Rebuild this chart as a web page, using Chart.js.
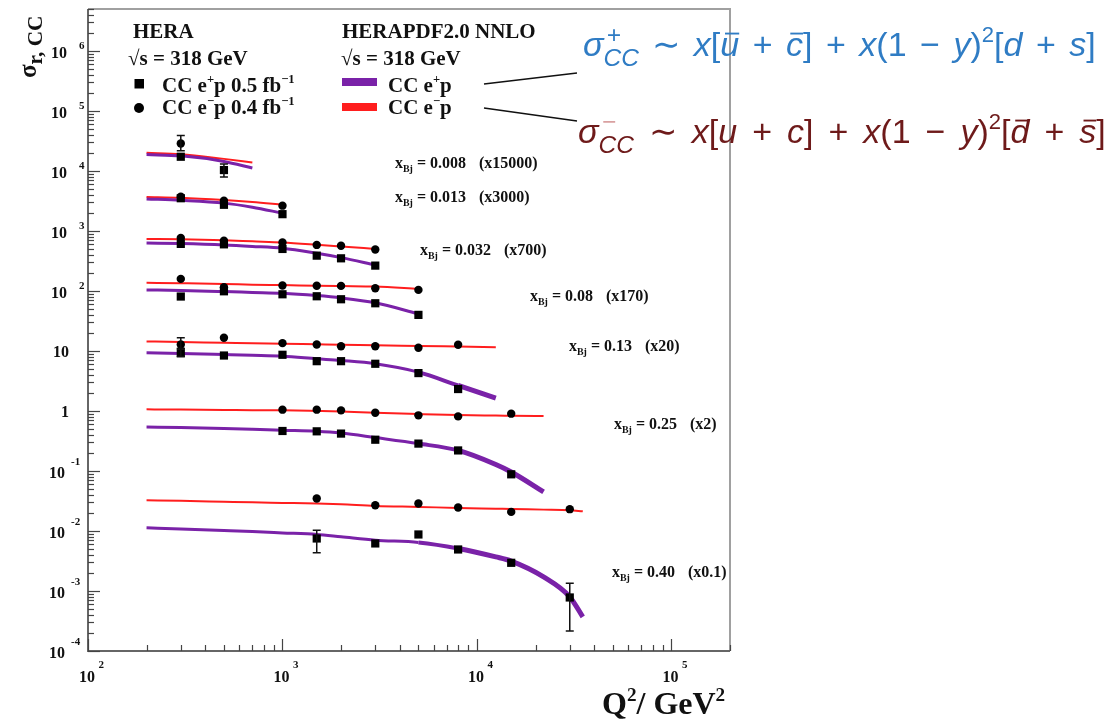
<!DOCTYPE html>
<html>
<head>
<meta charset="utf-8">
<script src="https://cdn.jsdelivr.net/npm/chart.js@4.4.0/dist/chart.umd.min.js"></script>
<style>
  html, body { margin: 0; padding: 0; background: #fff; }
</style>
</head>
<body>
<canvas id="cc" width="1115" height="721"></canvas>
<script>
// Q^2 bins of the charged-current measurements (GeV^2)
const q2Bins = [300, 500, 1000, 1500, 2000, 3000, 5000, 8000, 15000, 30000];
// Q^2 points the HERAPDF2.0 NNLO predictions are evaluated at
const q2Grid = [200, 300, 500, 700, 1000, 1500, 2000, 3000, 5000, 8000, 12500, 15000, 22000, 30000, 35000];

const xBjValues = ['0.008', '0.013', '0.032', '0.08', '0.13', '0.25', '0.40'];
const scaleFactors = [15000, 3000, 700, 170, 20, 2, 0.1];

// reduced cross sections, e+p (one row per x_Bj, columns follow q2Bins)
const sigmaPos = [
  [1.15, 0.69, null, null, null, null, null, null, null, null],
  [1.17, 0.91, 0.635, null, null, null, null, null, null, null],
  [0.87, 0.855, 0.716, 0.554, 0.50, 0.378, null, null, null, null],
  [0.475, 0.581, 0.518, 0.48, 0.428, 0.367, 0.235, null, null, null],
  [0.459, 0.42, 0.432, 0.338, 0.338, 0.306, 0.214, 0.116, null, null],
  [null, null, 0.232, 0.229, 0.21, 0.166, 0.143, 0.110, 0.044, null],
  [null, null, null, 0.075, null, 0.062, 0.0875, 0.0492, 0.0295, 0.0078]
];
// reduced cross sections, e-p
const sigmaNeg = [
  [1.91, null, null, null, null, null, null, null, null, null],
  [1.24, 1.06, 0.88, null, null, null, null, null, null, null],
  [1.09, 0.986, 0.92, 0.836, 0.81, 0.70, null, null, null, null],
  [0.935, 0.678, 0.724, 0.72, 0.715, 0.652, 0.613, null, null, null],
  [0.64, 0.83, 0.675, 0.64, 0.60, 0.60, 0.565, 0.634, null, null],
  [null, null, 0.526, 0.526, 0.512, 0.468, 0.423, 0.406, 0.451, null],
  [null, null, null, 0.347, null, 0.269, 0.287, 0.246, 0.208, 0.231]
];
// visible uncertainties [low, high]
const errPos = [
  [null, [0.53, 0.87]],
  [],
  [],
  [],
  [[0.405, 0.55]],
  [],
  [null, null, null, [0.0432, 0.103], null, null, null, null, null, [0.00215, 0.0134]]
];
const errNeg = [
  [[1.45, 2.6]],
  [],
  [],
  [],
  [[0.55, 0.83]],
  [],
  []
];

// HERAPDF2.0 NNLO predictions (columns follow q2Grid)
const fitPos = [
  [1.25, 1.19, 0.96, 0.745],
  [1.14, 1.08, 0.97, 0.83, 0.66],
  [0.90, 0.88, 0.836, 0.79, 0.734, 0.606, 0.514, 0.388],
  [0.613, 0.60, 0.575, 0.557, 0.539, 0.493, 0.451, 0.373, 0.245],
  [0.467, 0.455, 0.437, 0.425, 0.41, 0.371, 0.347, 0.306, 0.222, 0.133, 0.082],
  [0.27, 0.265, 0.255, 0.247, 0.238, 0.229, 0.214, 0.18, 0.143, 0.110, 0.064, 0.048, 0.0224],
  [0.1127, 0.108, 0.102, 0.098, 0.093, 0.0875, 0.080, 0.0703, 0.0644, 0.0512, 0.037, 0.0315, 0.0172, 0.008, 0.0037]
];
const fitNeg = [
  [1.34, 1.27, 1.06, 0.925],
  [1.23, 1.19, 1.09, 1.01, 0.91],
  [1.05, 1.04, 1.0, 0.96, 0.92, 0.845, 0.79, 0.716],
  [0.803, 0.79, 0.77, 0.75, 0.737, 0.72, 0.71, 0.697, 0.638],
  [0.72, 0.705, 0.686, 0.674, 0.661, 0.647, 0.637, 0.624, 0.607, 0.592, 0.578],
  [0.532, 0.527, 0.52, 0.515, 0.512, 0.50, 0.49, 0.468, 0.445, 0.428, 0.42, 0.417, 0.411],
  [0.325, 0.318, 0.307, 0.30, 0.294, 0.287, 0.278, 0.262, 0.252, 0.242, 0.235, 0.232, 0.227, 0.222, 0.213]
];

const PURPLE = '#7a22a8';
const RED = '#ff1e1e';
const SERIF = '"Liberation Serif", "Times New Roman", serif';
const SANS = '"Liberation Sans", Arial, sans-serif';

function toPoints(qs, vals, f, errs) {
  const out = [];
  qs.forEach((q, i) => {
    const v = vals[i];
    if (v == null) return;
    const p = { x: q, y: v * f };
    const e = errs && errs[i];
    if (e) { p.lo = e[0] * f; p.hi = e[1] * f; }
    out.push(p);
  });
  return out;
}

// the e+p band opens up at high Q^2
function bandWidth(c) {
  const q = c.p1.parsed.x;
  return q >= 12500 ? 5 : q >= 8000 ? 4 : 3;
}

const datasets = [];
xBjValues.forEach((xb, i) => {
  const f = scaleFactors[i];
  datasets.push({
    label: 'HERAPDF e+p x=' + xb, data: toPoints(q2Grid, fitPos[i], f),
    borderColor: PURPLE, borderWidth: 3, pointRadius: 0,
    segment: { borderWidth: bandWidth },
    cubicInterpolationMode: 'monotone', order: 1
  });
  datasets.push({
    label: 'HERAPDF e-p x=' + xb, data: toPoints(q2Grid, fitNeg[i], f),
    borderColor: RED, borderWidth: 2, pointRadius: 0,
    cubicInterpolationMode: 'monotone', order: 1
  });
  datasets.push({
    label: 'CC e+p x=' + xb, data: toPoints(q2Bins, sigmaPos[i], f, errPos[i]),
    showLine: false, pointStyle: 'rect', pointRadius: 5.8,
    backgroundColor: '#000', borderWidth: 0, order: 0
  });
  datasets.push({
    label: 'CC e-p x=' + xb, data: toPoints(q2Bins, sigmaNeg[i], f, errNeg[i]),
    showLine: false, pointStyle: 'circle', pointRadius: 4.2,
    backgroundColor: '#000', borderWidth: 0, order: 0
  });
});

// text with superscripts, subscripts, stacked indices, overbars and spaced operators
function rich(ctx, x, y, parts, o) {
  let cx = x;
  ctx.fillStyle = o.color;
  ctx.strokeStyle = o.color;
  ctx.textAlign = 'left';
  ctx.textBaseline = 'alphabetic';
  const font = (it, fs) => (it ? 'italic ' : '') + (o.bold ? 'bold ' : '') + fs + 'px ' + o.family;
  for (let p of parts) {
    if (typeof p === 'string') p = { t: p };
    if (p.hi !== undefined) {
      const fs = o.size * 0.72;
      ctx.font = font(p.it, fs);
      if (p.hiColor) ctx.fillStyle = p.hiColor;
      ctx.fillText(p.hi, cx + 3, y - o.size * 0.38);
      ctx.fillStyle = o.color;
      const w1 = ctx.measureText(p.hi).width;
      ctx.fillText(p.lo, cx, y + o.size * 0.3);
      const w2 = ctx.measureText(p.lo).width;
      cx += Math.max(w1 + 3, w2);
      continue;
    }
    if (p.op) cx += o.opPad || 0;
    const small = p.sup || p.sub;
    const fs = small ? o.size * (o.scriptScale || 0.62) : o.size;
    ctx.font = font(p.it, fs);
    const dy = p.sup ? -o.size * (o.supRise || 0.4) : p.sub ? o.size * 0.22 : 0;
    ctx.fillText(p.t, cx, y + dy);
    const w = ctx.measureText(p.t).width;
    if (p.bar) {
      const by = y - o.size * 0.66;
      ctx.lineWidth = Math.max(1, o.size * 0.055);
      ctx.beginPath();
      ctx.moveTo(cx + w * 0.25, by);
      ctx.lineTo(cx + w * 1.0, by);
      ctx.stroke();
    }
    cx += w;
    if (p.op) cx += o.opPad || 0;
  }
  return cx;
}

const axisPlugin = {
  id: 'hepAxes',
  afterDraw(chart) {
    const ctx = chart.ctx;
    const a = chart.chartArea;
    const xs = chart.scales.x, ys = chart.scales.y;
    ctx.save();

    // frame
    ctx.lineCap = 'butt';
    ctx.strokeStyle = '#a0a0a0';
    ctx.lineWidth = 2;
    ctx.beginPath();
    ctx.moveTo(a.left, a.top); ctx.lineTo(a.right, a.top); ctx.lineTo(a.right, a.bottom);
    ctx.stroke();
    ctx.strokeStyle = '#666';
    ctx.beginPath();
    ctx.moveTo(a.left, a.top); ctx.lineTo(a.left, a.bottom); ctx.lineTo(a.right, a.bottom);
    ctx.stroke();

    // inward log ticks
    ctx.lineWidth = 1.2;
    ctx.strokeStyle = '#444';
    for (let e = -4; e <= 6; e++) {
      for (let m = 1; m <= 9; m++) {
        const v = Number(m + 'e' + e);
        if (v < ys.min || v > ys.max) continue;
        const py = Math.round(ys.getPixelForValue(v)) + 0.5;
        ctx.beginPath();
        ctx.moveTo(a.left, py); ctx.lineTo(a.left + (m === 1 ? 12 : 6), py);
        ctx.stroke();
      }
    }
    for (let e = 2; e <= 5; e++) {
      for (let m = 1; m <= 9; m++) {
        const v = Number(m + 'e' + e);
        if (v < xs.min || v > xs.max) continue;
        const px = Math.round(xs.getPixelForValue(v)) + 0.5;
        ctx.beginPath();
        ctx.moveTo(px, a.bottom); ctx.lineTo(px, a.bottom - (m === 1 ? 12 : 6));
        ctx.stroke();
      }
    }

    // tick labels
    ctx.fillStyle = '#111';
    for (let e = -4; e <= 6; e++) {
      const py = ys.getPixelForValue(Number('1e' + e));
      ctx.font = 'bold 16px ' + SERIF;
      ctx.textAlign = 'right';
      if (e === 0 || e === 1) {
        ctx.fillText(e === 0 ? '1' : '10', 69, py + 6);
        continue;
      }
      ctx.fillText('10', e > 0 ? 67 : 65, py + 7);
      ctx.font = 'bold 11px ' + SERIF;
      ctx.textAlign = 'left';
      ctx.fillText(e > 0 ? String(e) : '-' + (-e), e > 0 ? 79 : 71, py + (e > 0 ? -2 : -6));
    }
    for (let e = 2; e <= 5; e++) {
      const px = xs.getPixelForValue(Number('1e' + e));
      ctx.font = 'bold 16px ' + SERIF;
      ctx.textAlign = 'left';
      ctx.fillText('10', px - 9, 682);
      ctx.font = 'bold 11px ' + SERIF;
      ctx.fillText(String(e), px + 10.5, 668);
    }

    // axis titles
    rich(ctx, 602, 714, ['Q', { t: '2', sup: true }, '/ GeV', { t: '2', sup: true }],
      { size: 32, family: SERIF, bold: true, color: '#111', scriptScale: 0.6, supRise: 0.42 });
    ctx.save();
    ctx.translate(36, 78);
    ctx.rotate(-Math.PI / 2);
    rich(ctx, 0, 0, ['σ', { t: 'r, CC', sub: true }],
      { size: 25, family: SERIF, bold: true, color: '#111', scriptScale: 0.85 });
    ctx.restore();

    // x_Bj labels with their scale factors
    const labelAt = [[395, 168], [395, 202], [420, 255], [530, 301], [569, 351], [614, 429], [612, 577]];
    xBjValues.forEach((xb, i) => {
      const [lx, ly] = labelAt[i];
      const end = rich(ctx, lx, ly, ['x', { t: 'Bj', sub: true }, ' = ' + xb],
        { size: 16, family: SERIF, bold: true, color: '#111', scriptScale: 0.62 });
      rich(ctx, end + 13, ly, ['(x' + scaleFactors[i] + ')'],
        { size: 16, family: SERIF, bold: true, color: '#111' });
    });

    // legend: data
    const L = { size: 21, family: SERIF, bold: true, color: '#111', scriptScale: 0.6, supRise: 0.45 };
    rich(ctx, 133, 38, ['HERA'], L);
    rich(ctx, 128, 65, ['√s = 318 GeV'], L);
    ctx.fillStyle = '#000';
    ctx.fillRect(134.5, 79, 9.5, 9.5);
    ctx.beginPath(); ctx.arc(139, 108, 5, 0, Math.PI * 2); ctx.fill();
    rich(ctx, 162, 92, ['CC e', { t: '+', sup: true }, 'p 0.5 fb', { t: '−1', sup: true }], L);
    rich(ctx, 162, 114, ['CC e', { t: '−', sup: true }, 'p 0.4 fb', { t: '−1', sup: true }], L);

    // legend: predictions
    rich(ctx, 342, 38, ['HERAPDF2.0 NNLO'], L);
    rich(ctx, 341, 65, ['√s = 318 GeV'], L);
    ctx.fillStyle = PURPLE;
    ctx.fillRect(342, 78, 35, 8);
    ctx.fillStyle = RED;
    ctx.fillRect(342, 103, 35, 8);
    rich(ctx, 388, 92, ['CC e', { t: '+', sup: true }, 'p'], L);
    rich(ctx, 388, 114, ['CC e', { t: '−', sup: true }, 'p'], L);

    // pointers to the parton content formulas
    ctx.strokeStyle = '#111';
    ctx.lineWidth = 1.5;
    ctx.beginPath();
    ctx.moveTo(484, 84); ctx.lineTo(577, 73);
    ctx.moveTo(484, 108); ctx.lineTo(577, 121);
    ctx.stroke();

    const F = { size: 34, family: SANS, bold: false, scriptScale: 0.65, supRise: 0.42 };
    rich(ctx, 583, 56, [
      { t: 'σ', it: true }, { hi: '+', lo: 'CC', it: true }, { t: '∼', op: true }, { t: 'x', it: true }, '[',
      { t: 'u', it: true, bar: true }, { t: '+', op: true }, { t: 'c', it: true, bar: true }, ']', { t: '+', op: true },
      { t: 'x', it: true }, '(1', { t: '−', op: true }, { t: 'y', it: true }, ')', { t: '2', sup: true }, '[',
      { t: 'd', it: true }, { t: '+', op: true }, { t: 's', it: true }, ']'
    ], Object.assign({ color: '#2f7cc4', opPad: 13.5 }, F));
    rich(ctx, 578, 143, [
      { t: 'σ', it: true }, { hi: '−', lo: 'CC', it: true, hiColor: '#d9a0a0' }, { t: '∼', op: true }, { t: 'x', it: true }, '[',
      { t: 'u', it: true }, { t: '+', op: true }, { t: 'c', it: true }, ']', { t: '+', op: true },
      { t: 'x', it: true }, '(1', { t: '−', op: true }, { t: 'y', it: true }, ')', { t: '2', sup: true }, '[',
      { t: 'd', it: true, bar: true }, { t: '+', op: true }, { t: 's', it: true, bar: true }, ']'
    ], Object.assign({ color: '#6e1a1a', opPad: 15 }, F));

    ctx.restore();
  }
};

const errorBarPlugin = {
  id: 'errorBars',
  afterDatasetsDraw(chart) {
    const ctx = chart.ctx;
    const ys = chart.scales.y;
    ctx.save();
    ctx.strokeStyle = '#111';
    ctx.lineWidth = 1.5;
    chart.data.datasets.forEach((ds, di) => {
      const meta = chart.getDatasetMeta(di);
      ds.data.forEach((p, j) => {
        if (p.lo === undefined) return;
        const px = meta.data[j].x;
        const y1 = ys.getPixelForValue(p.lo), y2 = ys.getPixelForValue(p.hi);
        ctx.beginPath();
        ctx.moveTo(px, y1); ctx.lineTo(px, y2);
        ctx.moveTo(px - 4, y1); ctx.lineTo(px + 4, y1);
        ctx.moveTo(px - 4, y2); ctx.lineTo(px + 4, y2);
        ctx.stroke();
      });
    });
    ctx.restore();
  }
};

new Chart(document.getElementById('cc'), {
  type: 'line',
  data: { datasets },
  options: {
    responsive: false,
    animation: false,
    devicePixelRatio: 1,
    layout: { padding: { left: 88, right: 385, top: 9, bottom: 70 } },
    plugins: { legend: { display: false }, tooltip: { enabled: false } },
    scales: {
      x: { type: 'logarithmic', min: 100, max: 200000, display: false },
      y: { type: 'logarithmic', min: 1e-4, max: 5e6, display: false }
    }
  },
  plugins: [errorBarPlugin, axisPlugin]
});
</script>
</body>
</html>
